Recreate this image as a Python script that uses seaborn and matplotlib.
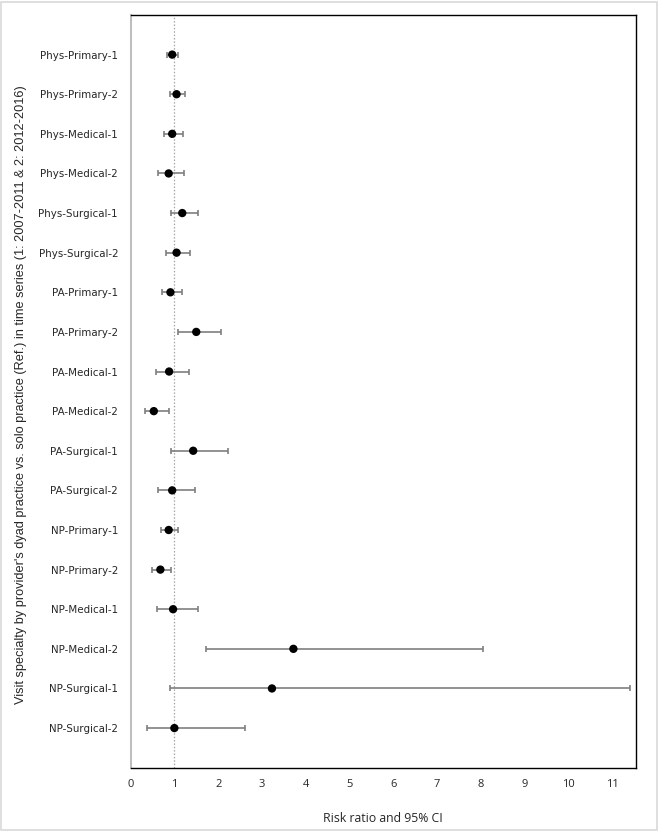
import matplotlib
matplotlib.use("Agg")
import matplotlib.pyplot as plt
import numpy as np
import pandas as pd
import seaborn as sns
from matplotlib.patches import Rectangle

# rows, top to bottom
labels = ["Phys-Primary-1", "Phys-Primary-2", "Phys-Medical-1", "Phys-Medical-2",
          "Phys-Surgical-1", "Phys-Surgical-2", "PA-Primary-1", "PA-Primary-2",
          "PA-Medical-1", "PA-Medical-2", "PA-Surgical-1", "PA-Surgical-2",
          "NP-Primary-1", "NP-Primary-2", "NP-Medical-1", "NP-Medical-2",
          "NP-Surgical-1", "NP-Surgical-2"]
rr = [0.95, 1.05, 0.95, 0.87, 1.18, 1.05, 0.91, 1.50, 0.88, 0.53, 1.43, 0.95,
      0.87, 0.68, 0.97, 3.72, 3.23, 1.00]
ci_low = [0.83, 0.89, 0.76, 0.62, 0.92, 0.80, 0.71, 1.08, 0.59, 0.32, 0.92, 0.62,
          0.70, 0.49, 0.60, 1.72, 0.91, 0.38]
ci_high = [1.09, 1.24, 1.20, 1.21, 1.54, 1.36, 1.17, 2.06, 1.33, 0.87, 2.22, 1.46,
           1.08, 0.93, 1.54, 8.06, 11.41, 2.61]
xticks = list(range(0, 12))

df = pd.DataFrame({"label": labels, "rr": rr, "lo": ci_low, "hi": ci_high})
pos = np.arange(len(df))

sns.set_style("white")
plt.rcParams["font.family"] = ["DejaVu Sans"]

fig = plt.figure(figsize=(6.61, 8.32), dpi=100)
ax = fig.add_axes([0.1976, 0.0773, 0.7640, 0.9047])

# reference line at 1
ax.axvline(1, color="#a6a6a6", lw=0.9, ls=(0, (1.2, 1.5)), zorder=1)

# confidence intervals
ax.errorbar(df["rr"], pos,
            xerr=[df["rr"] - df["lo"], df["hi"] - df["rr"]],
            fmt="none", ecolor="#7f7f7f", elinewidth=1.2, capsize=2.3,
            capthick=1.2, zorder=2)

sns.scatterplot(x=df["rr"], y=pos, ax=ax, color="black", s=36,
                edgecolor="none", zorder=3, legend=False)

ax.set_xlim(0, 11.54)
ax.set_ylim(len(df), -1)
ax.set_xticks(xticks)
ax.set_xticklabels([str(t) for t in xticks], family=["Open Sans", "DejaVu Sans"],
                   fontsize=8)
ax.set_yticks(pos)
ax.set_yticklabels(df["label"], fontsize=7.4)
ax.tick_params(axis="both", length=0)
ax.tick_params(axis="y", pad=9)
ax.tick_params(axis="x", pad=8)

ax.set_xlabel("Risk ratio and 95% CI", family=["Open Sans", "DejaVu Sans"],
              fontsize=8.8, labelpad=16)
ax.set_ylabel("Visit specialty by provider's dyad practice vs. solo practice (Ref.) "
              "in time series (1: 2007-2011 & 2: 2012-2016)",
              family=["Liberation Sans", "DejaVu Sans"], fontsize=9.2)
ax.yaxis.set_label_coords(-0.205, 0.496)

for s in ["top", "right", "bottom"]:
    ax.spines[s].set_color("black")
    ax.spines[s].set_linewidth(1.0)
ax.spines["left"].set_color("#bfbfbf")
ax.spines["left"].set_linewidth(1.5)

# light frame around the whole picture
fig.patches.append(Rectangle((0.002, 0.002), 0.992, 0.995, transform=fig.transFigure,
                             fill=False, edgecolor="#d9d9d9", lw=1.2))

fig.savefig("out.png", dpi=100)
